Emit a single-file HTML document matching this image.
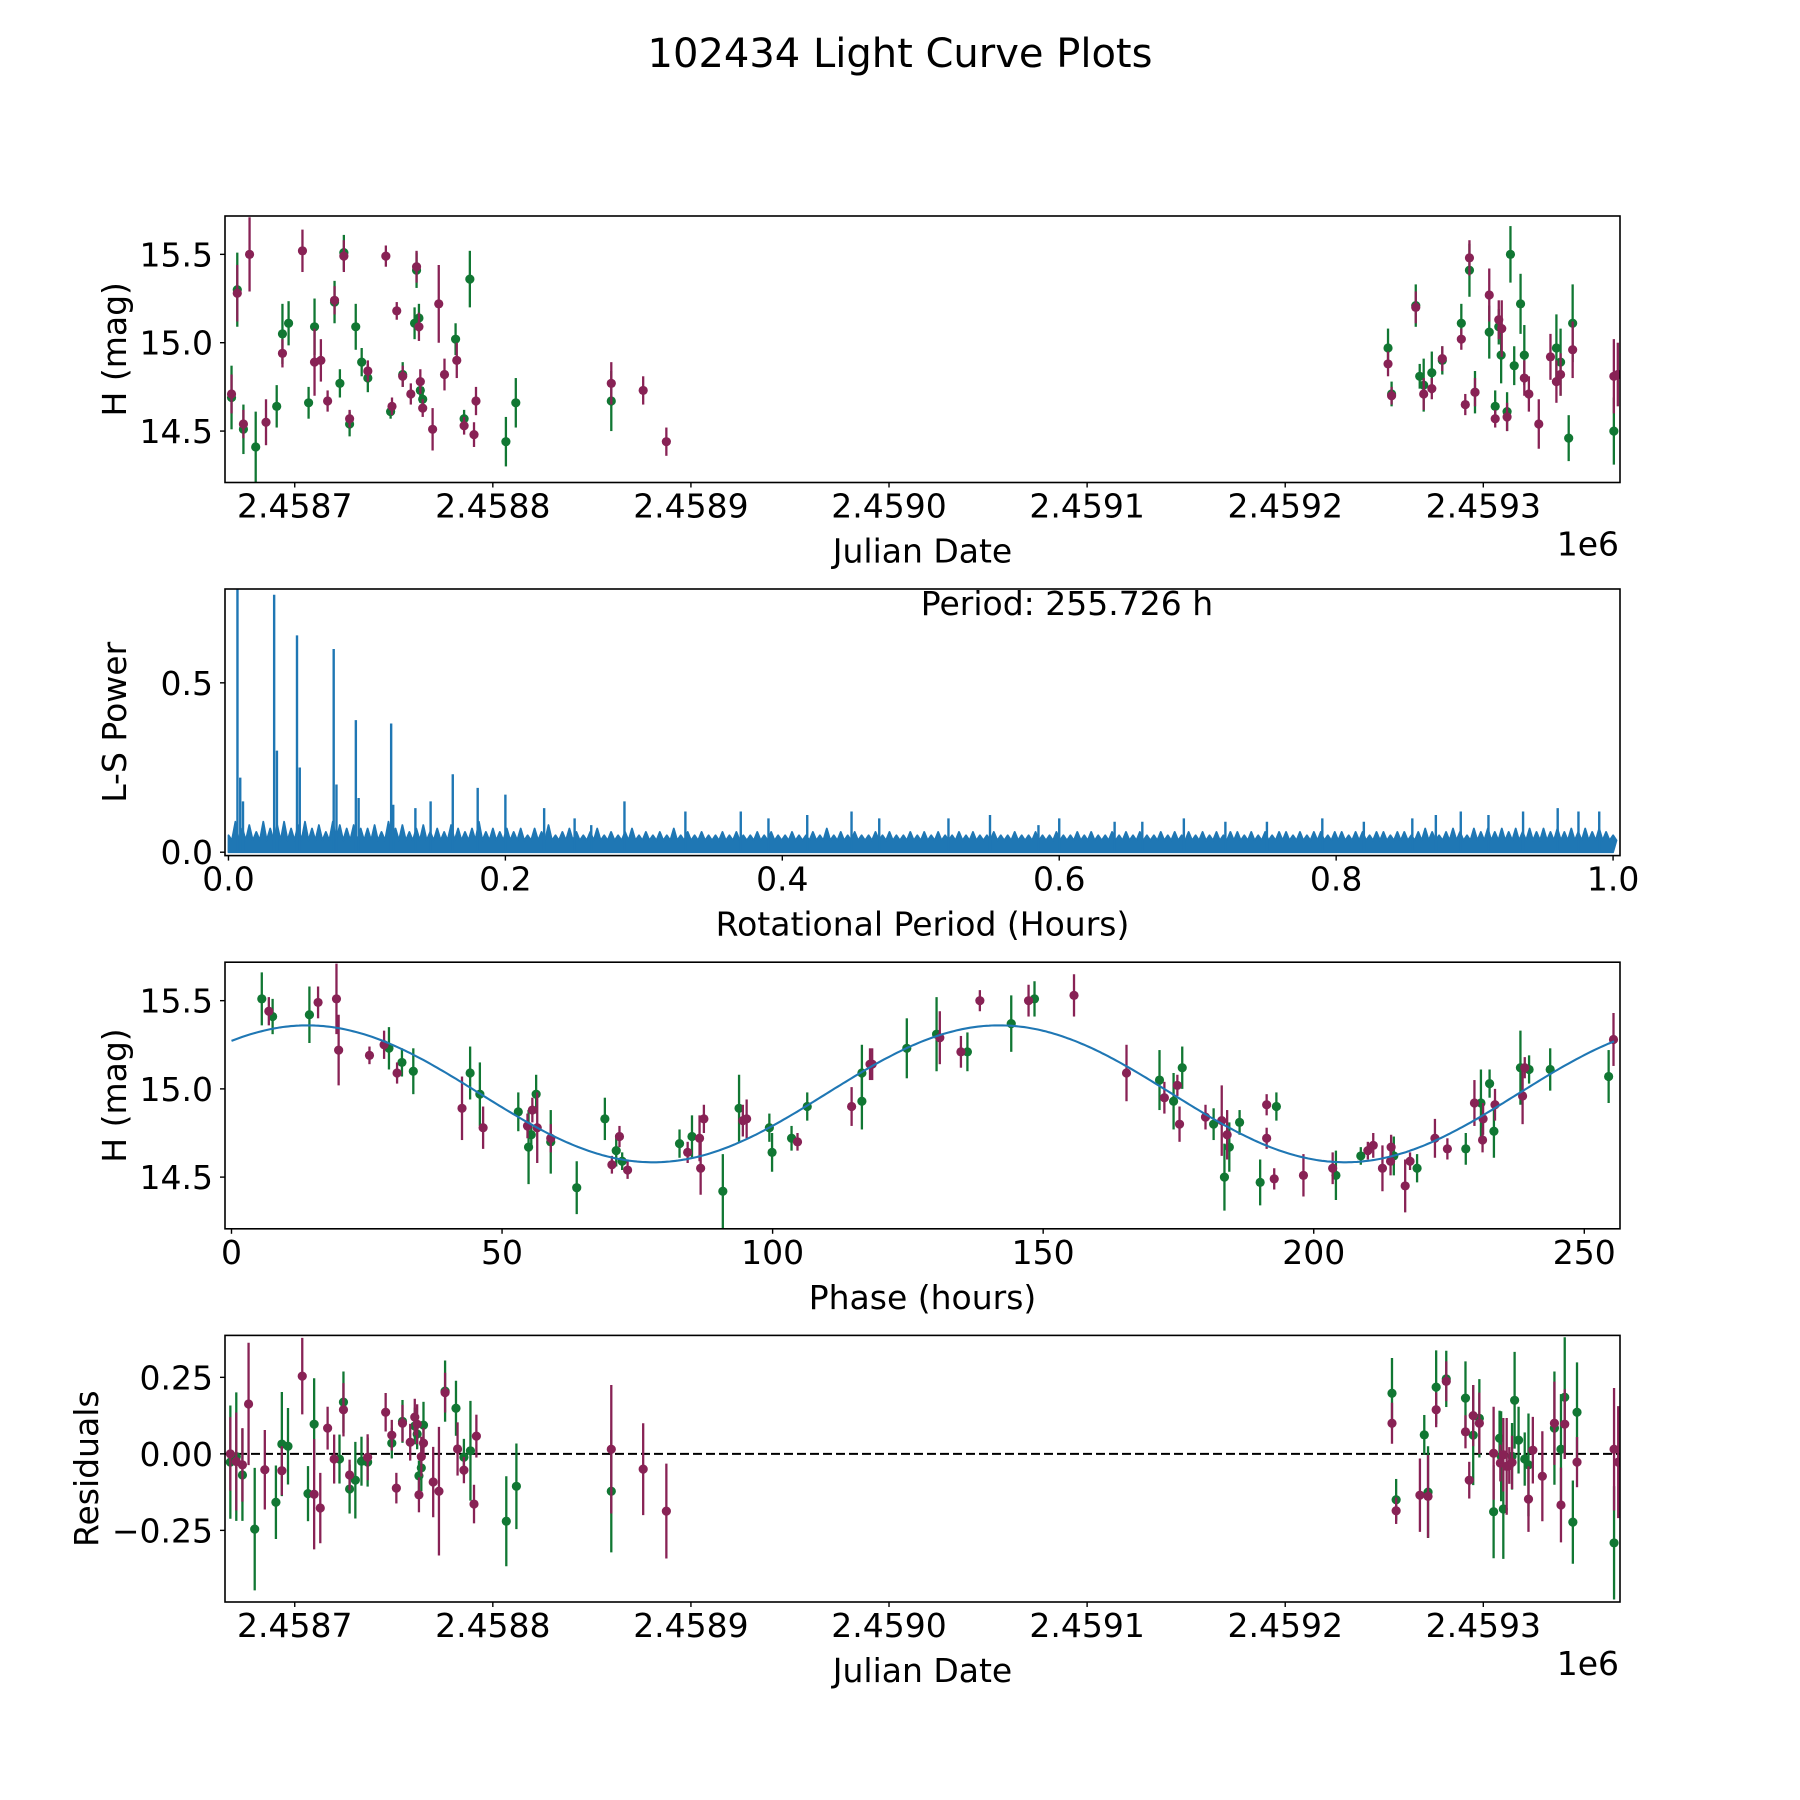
<!DOCTYPE html>
<html><head><meta charset="utf-8"><title>102434 Light Curve Plots</title>
<style>html,body{margin:0;padding:0;background:#fff}svg{display:block}text{font-family:"DejaVu Sans","Liberation Sans",sans-serif;fill:#000}</style>
</head><body>
<svg id="fig" xmlns="http://www.w3.org/2000/svg" width="1800" height="1800" viewBox="0 0 1800 1800">
<rect width="1800" height="1800" fill="#fff"/>
<text x="900" y="67" font-size="40" text-anchor="middle">102434 Light Curve Plots</text>
</svg>
<script>
// ---- data (days relative to 2458700) ----
const lcGreen = [[-31.9,14.69,.18],[-29,15.30,.21],[-25.9,14.51,.14],[-19.7,14.41,.2],[-9.1,14.64,.12],[-6.2,15.05,.17],[-3.1,15.11,.125],[7,14.66,.09],[10,15.09,.16],[20.1,15.23,.12],[22.8,14.77,.08],[24.8,15.51,.1],[27.7,14.54,.07],[30.8,15.09,.13],[33.8,14.89,.08],[36.9,14.8,.08],[48.4,14.61,.04],[54.5,14.82,.07],[60.5,15.11,.09],[61.5,15.41,.1],[62.7,15.14,.08],[63.4,14.73,.07],[64.6,14.68,.07],[81.2,15.02,.09],[85.5,14.57,.05],[88.4,15.36,.16],[106.6,14.44,.14],[111.6,14.66,.14],[159.8,14.67,.17],
[551.9,14.97,.11],[553.7,14.71,.07],[565.9,15.21,.12],[567.9,14.81,.07],[569.9,14.76,.15],[574,14.83,.12],[579.3,14.9,.08],[588.9,15.11,.11],[593,15.41,.15],[595.8,14.72,.12],[603,15.06,.15],[606,14.64,.09],[607.8,15.09,.1],[609,14.93,.16],[612,14.61,.11],[613.7,15.5,.16],[615.6,14.87,.11],[618.8,15.22,.17],[620.7,14.93,.17],[636.9,14.97,.19],[639,14.89,.19],[643.1,14.46,.13],[645.1,15.11,.22],[665.9,14.5,.19]];
const lcMaroon = [[-31.9,14.71,.11],[-29,15.28,.16],[-25.9,14.54,.08],[-22.8,15.5,.21],[-14.5,14.55,.13],[-6.2,14.94,.08],[3.9,15.52,.12],[10,14.89,.19],[13.2,14.9,.12],[16.6,14.67,.06],[20.1,15.24,.08],[24.8,15.49,.09],[27.7,14.57,.05],[36.9,14.84,.06],[46,15.49,.06],[49.1,14.64,.05],[51.5,15.18,.05],[54.5,14.81,.06],[58.6,14.71,.06],[61.5,15.43,.09],[62.7,15.09,.08],[63.4,14.78,.07],[64.6,14.63,.05],[69.6,14.51,.12],[72.7,15.22,.22],[75.6,14.82,.09],[81.8,14.9,.1],[85.5,14.53,.05],[90.5,14.48,.07],[91.5,14.67,.08],[159.8,14.77,.12],[175.9,14.73,.08],[187.6,14.44,.08],
[551.9,14.88,.07],[553.7,14.70,.05],[565.9,15.2,.09],[569.9,14.71,.09],[574,14.74,.06],[579.3,14.91,.07],[588.9,15.02,.06],[590.9,14.65,.06],[593,15.48,.1],[595.8,14.72,.08],[603,15.27,.15],[606,14.57,.05],[607.8,15.13,.11],[609.3,15.08,.16],[612,14.58,.08],[620.7,14.8,.1],[623,14.71,.1],[628,14.54,.14],[633.9,14.92,.13],[636.9,14.78,.12],[639,14.82,.12],[645.1,14.96,.16],[665.9,14.81,.21],[667.9,14.82,.18]];
const lsNoise = [0.05,0.09,0.07,0.08,0.06,0.09,0.07,0.08,0.09,0.07,0.08,0.09,0.07,0.08,0.06,0.09,0.08,0.07,0.08,0.07,
0.07,0.08,0.06,0.09,0.07,0.08,0.06,0.07,0.08,0.06,0.07,0.06,0.08,0.07,0.06,0.07,0.09,0.06,0.07,0.06,
0.07,0.06,0.07,0.05,0.07,0.06,0.08,0.05,0.06,0.07,0.06,0.05,0.06,0.07,0.05,0.06,0.05,0.06,0.07,0.05,
0.06,0.05,0.06,0.05,0.07,0.05,0.06,0.05,0.06,0.05,0.05,0.06,0.05,0.06,0.05,0.05,0.06,0.05,0.06,0.05,
0.05,0.06,0.05,0.05,0.06,0.05,0.07,0.05,0.06,0.05,0.06,0.05,0.05,0.06,0.05,0.06,0.05,0.05,0.06,0.05,
0.06,0.05,0.06,0.05,0.05,0.06,0.05,0.06,0.05,0.05,0.06,0.05,0.05,0.06,0.05,0.05,0.06,0.05,0.05,0.06,
0.05,0.05,0.06,0.05,0.06,0.05,0.05,0.06,0.05,0.06,0.05,0.06,0.05,0.05,0.06,0.05,0.06,0.05,0.06,0.05,
0.06,0.05,0.06,0.05,0.06,0.06,0.05,0.06,0.05,0.06,0.05,0.06,0.06,0.05,0.06,0.05,0.06,0.06,0.05,0.06,
0.06,0.05,0.06,0.06,0.05,0.06,0.06,0.05,0.06,0.06,0.05,0.06,0.07,0.06,0.05,0.06,0.07,0.06,0.05,0.07,
0.06,0.07,0.06,0.07,0.06,0.07,0.06,0.07,0.06,0.07,0.06,0.07,0.06,0.07,0.06,0.07,0.06,0.07,0.06,0.05];
const lsPeakX = [0.0065,0.0085,0.0105,0.033,0.035,0.0495,0.0515,0.076,0.078,0.092,0.094,0.1175,0.119,0.135,0.146,0.162,0.18,0.2,0.228,0.25,0.262,0.286,0.33,0.37,0.39,0.418,0.45,0.47,0.52,0.55,0.585,0.6,0.64,0.66,0.69,0.72,0.75,0.79,0.82,0.855,0.872,0.89,0.91,0.935,0.96,0.975,0.99];
const lsPeakY = [0.82,0.22,0.15,0.76,0.3,0.64,0.25,0.6,0.2,0.39,0.16,0.38,0.14,0.13,0.15,0.23,0.19,0.17,0.13,0.1,0.08,0.15,0.12,0.12,0.1,0.11,0.12,0.1,0.1,0.11,0.08,0.1,0.09,0.09,0.1,0.09,0.09,0.1,0.09,0.1,0.11,0.12,0.11,0.12,0.13,0.12,0.12];
const periodLabel = "Period: 255.726 h";
const phGreen = [[5.6,15.51,.15],[7.6,15.41,.1],[14.4,15.42,.16],[29.1,15.23,.12],[31.5,15.15,.08],[33.6,15.1,.13],[44.1,15.09,.15],[45.9,14.97,.18],[53,14.87,.11],[54.9,14.67,.21],[55.4,14.74,.06],[56.3,14.97,.11],[59,14.7,.18],[63.8,14.44,.15],[69,14.83,.12],[71.1,14.65,.09],[72.2,14.59,.05],[82.8,14.69,.08],[85.1,14.73,.12],[90.8,14.42,.21],[93.8,14.89,.19],[99.4,14.78,.08],[99.9,14.64,.11],[103.5,14.72,.07],[106.4,14.9,.08],[116.5,14.93,.16],[116.5,15.09,.16],[124.8,15.23,.17],[130.3,15.31,.21],[136,15.21,.11],[144.1,15.37,.16],[148.4,15.51,.1],[171.5,15.05,.17],[174.1,14.93,.16],[175.7,15.12,.12],[181.5,14.8,.09],[183.5,14.5,.19],[184.4,14.67,.14],[186.3,14.81,.07],[190.1,14.47,.13],[193.1,14.9,.08],[204.1,14.51,.14],[208.7,14.62,.05],[214.8,14.62,.11],[219.1,14.55,.08],[228.1,14.66,.09],[230.9,14.92,.19],[232.5,15.03,.08],[233.3,14.76,.15],[238.2,15.12,.21],[239.8,15.11,.08],[243.7,15.11,.12],[254.5,15.07,.15]];
const phMaroon = [[6.9,15.44,.08],[16,15.49,.09],[19.4,15.51,.2],[19.8,15.22,.2],[25.5,15.19,.05],[28.2,15.25,.08],[30.6,15.09,.06],[42.6,14.89,.18],[46.5,14.78,.12],[54.7,14.79,.07],[55.6,14.88,.07],[56.5,14.78,.2],[59,14.72,.08],[70.3,14.57,.05],[71.7,14.73,.06],[73.2,14.54,.05],[84.3,14.64,.06],[86.5,14.72,.13],[86.7,14.55,.15],[87.3,14.83,.08],[94.5,14.82,.09],[95.2,14.83,.11],[104.6,14.7,.05],[114.6,14.9,.11],[118,15.14,.09],[118.4,15.14,.09],[130.9,15.29,.15],[134.8,15.21,.09],[138.3,15.5,.06],[147.3,15.5,.09],[155.7,15.53,.12],[165.4,15.09,.16],[172.4,14.95,.09],[174.8,15.02,.06],[175.2,14.8,.1],[180,14.84,.07],[183,14.82,.2],[184,14.74,.14],[191.3,14.91,.06],[191.3,14.72,.06],[192.7,14.49,.06],[198.1,14.51,.12],[203.5,14.55,.09],[210,14.65,.05],[211,14.68,.07],[212.7,14.55,.13],[214.3,14.67,.07],[214.2,14.59,.08],[216.9,14.45,.15],[217.8,14.59,.05],[222.4,14.72,.11],[224.7,14.66,.06],[229.7,14.92,.13],[231.3,14.83,.09],[231.2,14.71,.07],[233.5,14.91,.09],[238.6,14.96,.16],[239,15.12,.06],[255.4,15.28,.15]];
const modelParams = [14.972, 0.388, 14, 127.86, 255.726]; // mean, amplitude, phase of max, half-period, period
const resGreen = [[-32.5,-.027,.185],[-29.5,-.009,.21],[-26.4,-.069,.15],[-20.2,-.246,.2],[-9.5,-.158,.12],[-6.5,.032,.17],[-3.4,.025,.125],[6.7,-.13,.09],[9.8,.097,.15],[22.6,-.017,.08],[24.6,.169,.1],[27.7,-.115,.08],[30.6,-.086,.125],[33.7,-.024,.08],[36.8,-.027,.08],[49,.035,.05],[54.4,.106,.07],[60.6,.091,.06],[61.8,.065,.05],[62.7,-.072,.05],[63.9,-.046,.076],[65,.094,.076],[75.9,.205,.1],[81.4,.149,.09],[85.4,-.011,.06],[88.7,.01,.163],[106.8,-.22,.147],[111.9,-.106,.14],[159.8,-.122,.2],
[553.9,.198,.115],[556,-.15,.068],[570.2,.062,.065],[572.1,-.125,.15],[576.2,.218,.12],[581.3,.245,.092],[591,.182,.12],[594.9,.061,.163],[598,.116,.128],[605.2,-.189,.152],[608.2,.051,.09],[609,-.008,.147],[610.1,-.18,.163],[614.5,-.008,.109],[615.8,.175,.158],[617.8,.045,.109],[620.9,-.017,.087],[622.8,-.036,.168],[635.9,.084,.185],[639.2,.015,.18],[641.1,.185,.196],[645.2,-.223,.136],[647.3,.136,.163],[666,-.291,.185]];
const resMaroon = [[-32.5,0,.12],[-29.5,-.025,.16],[-26.4,-.036,.12],[-23.3,.163,.2],[-15.1,-.052,.13],[-6.5,-.055,.08],[3.8,.254,.125],[9.8,-.132,.18],[12.9,-.177,.115],[16.6,.084,.07],[19.9,-.017,.08],[24.6,.144,.087],[27.7,-.069,.05],[36.8,-.011,.075],[45.9,.136,.063],[49,.061,.05],[51.3,-.112,.05],[54.4,.1,.06],[58.3,.038,.06],[60.6,.12,.06],[61.8,.097,.065],[62.7,-.134,.057],[63.9,-.009,.065],[65,.035,.05],[69.9,-.092,.115],[72.8,-.122,.21],[75.9,.2,.065],[82.2,.016,.087],[85.4,-.053,.043],[90.5,-.164,.063],[91.7,.058,.07],[159.8,.015,.21],[175.9,-.05,.15],[187.6,-.187,.155],
[553.9,.1,.067],[556,-.186,.043],[568,-.135,.12],[572.1,-.139,.135],[576.2,.144,.057],[581.3,.237,.065],[591,.072,.054],[592.9,-.086,.06],[594.9,.125,.1],[598,.1,.1],[605.2,.002,.152],[608.6,-.03,.06],[610.1,-.003,.12],[611.8,-.041,.158],[613.1,-.038,.06],[614.5,-.028,.087],[622.8,-.148,.107],[625,.012,.109],[629.8,-.073,.147],[635.9,.1,.136],[639.2,-.167,.122],[641.1,.097,.114],[647.3,-.027,.082],[666,.015,.2],[668.1,-.027,.183]];
const jdTicks = [0,100,200,300,400,500,600];
const jdTickLabels = ["2.4587","2.4588","2.4589","2.4590","2.4591","2.4592","2.4593"];
const magTicks = [14.5,15.0,15.5];
const magTickLabels = ["14.5","15.0","15.5"];
const lsXTicks = [0,0.2,0.4,0.6,0.8,1.0];
const lsXTickLabels = ["0.0","0.2","0.4","0.6","0.8","1.0"];
const lsYTicks = [0,0.5];
const lsYTickLabels = ["0.0","0.5"];
const phTicks = [0,50,100,150,200,250];
const phTickLabels = ["0","50","100","150","200","250"];
const resTicks = [-0.25,0,0.25];
const resTickLabels = ["\u22120.25","0.00","0.25"];

// ---- rendering ----
const NS = "http://www.w3.org/2000/svg";
const svg = document.getElementById("fig");
const GREEN = "#117733", MAROON = "#882255", BLUE = "#1f77b4";
const AX_L = 225, AX_R = 1620, FS = 33;
function mk(tag, attrs, parent) {
  const e = document.createElementNS(NS, tag);
  for (const k in attrs) e.setAttribute(k, attrs[k]);
  (parent || svg).appendChild(e);
  return e;
}
function makeAxes(id, top, bot, xlim, ylim) {
  const sx = v => AX_L + (v - xlim[0]) / (xlim[1] - xlim[0]) * (AX_R - AX_L);
  const sy = v => bot - (v - ylim[0]) / (ylim[1] - ylim[0]) * (bot - top);
  const defs = mk("defs", {});
  const cp = mk("clipPath", {id: "clip-" + id}, defs);
  mk("rect", {x: AX_L, y: top, width: AX_R - AX_L, height: bot - top}, cp);
  const g = mk("g", {"clip-path": "url(#clip-" + id + ")"});
  
  
  return {sx, sy, g, top, bot};
}
function frame(ax, name) {
  const r = mk("rect", {x: AX_L, y: ax.top, width: AX_R - AX_L, height: ax.bot - ax.top, fill: "none", stroke: "#000", "stroke-width": 1.6});
  
  
}
function xTicks(ax, vals, labels, name) {
  vals.forEach((v, i) => {
    const x = ax.sx(v);
    mk("line", {x1: x, x2: x, y1: ax.bot, y2: ax.bot + 5, stroke: "#000", "stroke-width": 1.4});
    const t = mk("text", {x: x, y: ax.bot + 35, "font-size": FS, "text-anchor": "middle"});
    t.textContent = labels[i];
    
    
  });
}
function yTicks(ax, vals, labels, name) {
  vals.forEach((v, i) => {
    const y = ax.sy(v);
    mk("line", {x1: AX_L - 5, x2: AX_L, y1: y, y2: y, stroke: "#000", "stroke-width": 1.4});
    const t = mk("text", {x: AX_L - 12, y: y + 12, "font-size": FS, "text-anchor": "end"});
    t.textContent = labels[i];
    
    
  });
}
function xLabel(ax, txt, name) {
  const t = mk("text", {x: (AX_L + AX_R) / 2, y: ax.bot + 80, "font-size": FS, "text-anchor": "middle"});
  t.textContent = txt;
  
  
}
function yLabel(ax, txt, cx, name) {
  const cy = (ax.top + ax.bot) / 2;
  const t = mk("text", {x: cx, y: cy, "font-size": FS, "text-anchor": "middle", transform: "rotate(-90 " + cx + " " + cy + ")"});
  t.textContent = txt;
  
  
}
function offsetText(ax) {
  const t = mk("text", {x: 1619, y: ax.bot + 73, "font-size": FS, "text-anchor": "end"});
  t.textContent = "1e6";
  
  
}
function errPoints(ax, pts, color, name) {
  pts.forEach(p => {
    const x = ax.sx(p[0]);
    const l = mk("line", {x1: x, x2: x, y1: ax.sy(p[1] + p[2]), y2: ax.sy(p[1] - p[2]), stroke: color, "stroke-width": 2.3}, ax.g);
    
    
    const c = mk("circle", {cx: x, cy: ax.sy(p[1]), r: 4.6, fill: color}, ax.g);
    
    
  });
}

// Panel 1: light curve
const ax1 = makeAxes("light-curve", 216, 482.5, [-35.2, 669], [14.209, 15.717]);
errPoints(ax1, lcGreen, GREEN, "green-band");
errPoints(ax1, lcMaroon, MAROON, "maroon-band");
frame(ax1, "light-curve");
xTicks(ax1, jdTicks, jdTickLabels, "light-curve");
yTicks(ax1, magTicks, magTickLabels, "light-curve");
xLabel(ax1, "Julian Date", "light-curve-x-axis-title");
yLabel(ax1, "H (mag)", 126, "light-curve-y-axis-title");
offsetText(ax1);

// Panel 2: periodogram
const ax2 = makeAxes("periodogram", 589, 855.6, [-0.0025, 1.005], [-0.01, 0.777]);
let d = "M" + ax2.sx(0) + "," + ax2.sy(0);
lsNoise.forEach((v, i) => {
  const x = i / (lsNoise.length - 1);
  d += " L" + ax2.sx(x).toFixed(1) + "," + ax2.sy(v).toFixed(1);
  d += " L" + ax2.sx(x + 0.0025).toFixed(1) + "," + ax2.sy(0.035).toFixed(1);
});
d += " L" + ax2.sx(1) + "," + ax2.sy(0) + " Z";
const band = mk("path", {d: d, fill: BLUE, stroke: BLUE, "stroke-width": 1.8, "stroke-linejoin": "round"}, ax2.g);


lsPeakX.forEach((v, i) => {
  const x = ax2.sx(v);
  const l = mk("line", {x1: x, x2: x, y1: ax2.sy(0), y2: ax2.sy(lsPeakY[i]), stroke: BLUE, "stroke-width": 2.4}, ax2.g);
  
  
});
frame(ax2, "periodogram");
xTicks(ax2, lsXTicks, lsXTickLabels, "periodogram");
yTicks(ax2, lsYTicks, lsYTickLabels, "periodogram");
xLabel(ax2, "Rotational Period (Hours)", "periodogram-x-axis-title");
yLabel(ax2, "L-S Power", 126, "periodogram-y-axis-title");
const pl = mk("text", {x: ax2.sx(0.5), y: ax2.sy(0.7), "font-size": FS});
pl.textContent = periodLabel;



// Panel 3: phase-folded
const ax3 = makeAxes("phase-plot", 962.2, 1228.8, [-1.2, 256.6], [14.207, 15.718]);
let md = "";
for (let t = 0; t <= modelParams[4]; t += 0.5) {
  const m = modelParams[0] + modelParams[1] * Math.cos(2 * Math.PI * (t - modelParams[2]) / modelParams[3]);
  md += (md ? " L" : "M") + ax3.sx(t).toFixed(1) + "," + ax3.sy(m).toFixed(1);
}
errPoints(ax3, phGreen, GREEN, "phase-green");
errPoints(ax3, phMaroon, MAROON, "phase-maroon");
const model = mk("path", {d: md, fill: "none", stroke: BLUE, "stroke-width": 2.1}, ax3.g);


frame(ax3, "phase-plot");
xTicks(ax3, phTicks, phTickLabels, "phase-plot");
yTicks(ax3, magTicks, magTickLabels, "phase-plot");
xLabel(ax3, "Phase (hours)", "phase-x-axis-title");
yLabel(ax3, "H (mag)", 126, "phase-y-axis-title");

// Panel 4: residuals
const ax4 = makeAxes("residuals", 1335.4, 1602, [-35.2, 669], [-0.484, 0.387]);
const zl = mk("line", {x1: AX_L, x2: AX_R, y1: ax4.sy(0), y2: ax4.sy(0), stroke: "#000", "stroke-width": 2, "stroke-dasharray": "9,4"}, ax4.g);


errPoints(ax4, resGreen, GREEN, "residual-green");
errPoints(ax4, resMaroon, MAROON, "residual-maroon");
frame(ax4, "residuals");
xTicks(ax4, jdTicks, jdTickLabels, "residuals");
yTicks(ax4, resTicks, resTickLabels, "residuals");
xLabel(ax4, "Julian Date", "residuals-x-axis-title");
yLabel(ax4, "Residuals", 98, "residuals-y-axis-title");
offsetText(ax4);
</script>
</body></html>
